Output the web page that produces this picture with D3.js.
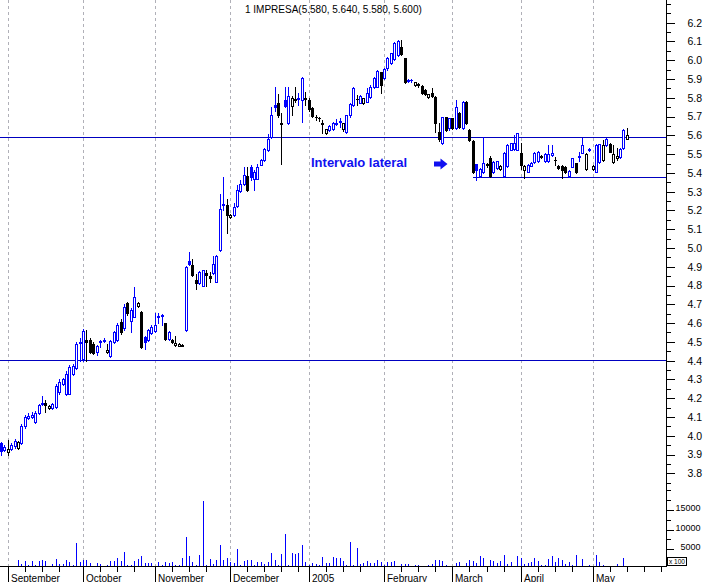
<!DOCTYPE html>
<html><head><meta charset="utf-8">
<script src="https://cdn.jsdelivr.net/npm/d3@7/dist/d3.min.js"></script>
<style>
html,body{margin:0;padding:0;background:#fff;}
svg{display:block;font-family:"Liberation Sans",Arial,sans-serif;}
</style></head><body>
<svg id="chart" width="707" height="582"></svg>
<script>
// ---------------- data (bar index 0 = 1 Sep 2004) ----------------
const firstIndex = -2;
const open = [
 3.96,3.925,3.915,3.93,3.945,3.935,3.96,4.05,4.095,4.10,
 4.075,4.12,4.17,4.175,4.15,4.15,4.155,4.235,4.275,4.22,
 4.225,4.33,4.36,4.495,4.41,4.51,4.51,4.49,4.445,4.50,
 4.505,4.445,4.425,4.50,4.51,4.608,4.572,4.706,4.61,4.635,
 4.69,4.661,4.528,4.51,4.546,4.56,4.635,4.64,4.60,4.515,
 4.51,4.485,4.48,4.48,4.563,4.93,4.91,4.83,4.815,4.80,
 4.865,4.85,4.865,4.82,4.99,5.23,5.23,5.165,5.175,5.225,
 5.305,5.34,5.385,5.43,5.37,5.37,5.443,5.47,5.52,5.59,
 5.76,5.77,5.665,5.79,5.665,5.755,5.795,5.795,5.79,5.80,
 5.79,5.745,5.70,5.693,5.665,5.611,5.63,5.632,5.662,5.67,
 5.632,5.617,5.709,5.762,5.795,5.771,5.771,5.78,5.806,5.856,
 5.86,5.939,5.904,5.957,5.984,6.005,6.03,6.069,6.01,5.895,
 5.893,5.868,5.875,5.863,5.842,5.806,5.824,5.806,5.62,5.558,
 5.696,5.638,5.69,5.638,5.72,5.638,5.78,5.63,5.572,5.45,
 5.385,5.407,5.445,5.48,5.407,5.425,5.419,5.384,5.437,5.522,
 5.525,5.522,5.505,5.416,5.407,5.437,5.46,5.465,5.486,5.465,
 5.465,5.495,5.47,5.437,5.437,5.434,5.386,5.434,5.451,5.485,
 5.508,5.419,5.52,5.419,5.407,5.46,5.469,5.549,5.555,5.46,
 5.478,5.487,5.531,5.58];
const high = [
 3.965,3.95,3.98,3.96,3.985,3.97,4.06,4.11,4.12,4.125,
 4.13,4.17,4.21,4.19,4.165,4.175,4.275,4.30,4.305,4.345,
 4.375,4.38,4.50,4.52,4.57,4.565,4.52,4.50,4.485,4.51,
 4.52,4.49,4.51,4.56,4.60,4.62,4.70,4.71,4.68,4.794,
 4.71,4.665,4.53,4.57,4.59,4.655,4.655,4.65,4.60,4.56,
 4.515,4.53,4.495,4.49,4.905,4.98,4.94,4.86,4.875,4.885,
 4.885,4.87,4.955,4.965,5.29,5.38,5.26,5.18,5.24,5.335,
 5.36,5.43,5.43,5.44,5.415,5.45,5.475,5.53,5.607,5.75,
 5.86,5.82,5.72,5.857,5.857,5.81,5.86,5.825,5.91,5.83,
 5.80,5.75,5.71,5.70,5.68,5.635,5.655,5.67,5.685,5.69,
 5.668,5.71,5.77,5.86,5.815,5.815,5.80,5.851,5.87,5.91,
 5.948,5.94,5.957,6.015,6.04,6.095,6.108,6.108,6.012,5.90,
 5.90,5.886,5.88,5.866,5.845,5.82,5.851,5.81,5.664,5.70,
 5.70,5.695,5.695,5.79,5.725,5.785,5.785,5.635,5.575,5.45,
 5.425,5.59,5.455,5.49,5.465,5.465,5.44,5.51,5.555,5.56,
 5.60,5.615,5.558,5.44,5.445,5.46,5.512,5.515,5.495,5.505,
 5.549,5.549,5.487,5.44,5.44,5.436,5.415,5.48,5.455,5.513,
 5.584,5.505,5.53,5.44,5.555,5.555,5.575,5.585,5.56,5.55,
 5.53,5.53,5.633,5.64];
const low = [
 3.895,3.92,3.90,3.925,3.935,3.93,3.955,4.04,4.09,4.095,
 4.07,4.115,4.165,4.125,4.145,4.145,4.15,4.225,4.27,4.215,
 4.22,4.325,4.355,4.40,4.40,4.40,4.44,4.435,4.43,4.475,
 4.50,4.44,4.42,4.495,4.505,4.54,4.565,4.645,4.555,4.63,
 4.685,4.466,4.46,4.505,4.54,4.555,4.60,4.59,4.51,4.51,
 4.495,4.48,4.478,4.478,4.56,4.91,4.85,4.78,4.81,4.798,
 4.80,4.82,4.86,4.82,4.985,5.20,5.08,5.16,5.17,5.22,
 5.30,5.335,5.305,5.36,5.31,5.365,5.44,5.465,5.515,5.585,
 5.73,5.70,5.447,5.75,5.66,5.71,5.78,5.76,5.67,5.76,
 5.73,5.70,5.68,5.675,5.61,5.605,5.625,5.63,5.655,5.645,
 5.625,5.615,5.70,5.755,5.762,5.77,5.765,5.775,5.80,5.85,
 5.855,5.824,5.90,5.95,5.98,6.00,6.025,6.03,5.88,5.885,
 5.885,5.865,5.86,5.82,5.815,5.80,5.805,5.62,5.57,5.555,
 5.625,5.63,5.635,5.635,5.64,5.635,5.66,5.57,5.40,5.36,
 5.38,5.40,5.43,5.38,5.40,5.42,5.415,5.38,5.43,5.52,
 5.52,5.52,5.42,5.371,5.405,5.435,5.455,5.46,5.48,5.46,
 5.46,5.49,5.442,5.42,5.371,5.40,5.38,5.43,5.40,5.465,
 5.505,5.415,5.515,5.415,5.405,5.455,5.465,5.545,5.51,5.455,
 5.47,5.48,5.525,5.58];
const close = [
 3.92,3.94,3.93,3.95,3.97,3.965,4.05,4.10,4.105,4.11,
 4.12,4.165,4.175,4.165,4.16,4.17,4.265,4.285,4.30,4.33,
 4.365,4.37,4.49,4.50,4.56,4.50,4.445,4.44,4.48,4.502,
 4.51,4.455,4.507,4.555,4.59,4.555,4.688,4.652,4.67,4.741,
 4.705,4.475,4.497,4.564,4.581,4.59,4.64,4.645,4.514,4.555,
 4.50,4.495,4.49,4.485,4.90,4.915,4.857,4.815,4.87,4.882,
 4.858,4.84,4.915,4.96,5.206,5.235,5.176,5.175,5.22,5.31,
 5.34,5.39,5.31,5.38,5.405,5.43,5.47,5.525,5.578,5.71,
 5.75,5.71,5.66,5.755,5.807,5.80,5.79,5.80,5.905,5.795,
 5.74,5.705,5.696,5.69,5.66,5.632,5.65,5.664,5.668,5.678,
 5.664,5.709,5.767,5.851,5.792,5.81,5.797,5.824,5.86,5.904,
 5.945,5.866,5.952,6.01,6.037,6.09,6.10,6.033,5.886,5.89,
 5.895,5.882,5.87,5.824,5.82,5.818,5.81,5.664,5.579,5.696,
 5.629,5.691,5.64,5.753,5.645,5.78,5.668,5.575,5.407,5.416,
 5.42,5.455,5.442,5.384,5.46,5.462,5.437,5.508,5.549,5.558,
 5.56,5.611,5.44,5.435,5.44,5.455,5.505,5.51,5.488,5.501,
 5.503,5.507,5.469,5.425,5.416,5.407,5.412,5.478,5.407,5.489,
 5.549,5.501,5.526,5.437,5.549,5.552,5.549,5.579,5.513,5.50,
 5.49,5.525,5.629,5.60];
const volume = [ // x 100
 0,0,0,0,0,2284,1296,2119,1049,2119,
 1049,2119,2284,2119,0,1296,2531,1296,1296,2284,
 1872,1049,6556,1872,2284,2284,1626,0,1461,1296,
 0,1049,2037,2037,2778,2037,4259,1049,1049,2119,
 2531,3272,1461,1461,1461,0,1790,1049,1790,1461,
 1790,1049,1049,2778,8201,3272,1790,1049,3519,17346,
 1049,2531,1296,2284,5979,2284,2778,1872,1461,4992,
 1049,2119,2284,2284,1049,1790,1790,1296,1790,4005,
 2284,1049,3759,8942,1049,4005,3759,4005,5979,1790,
 1049,1461,1296,1049,3025,1543,1543,3025,2778,2778,
 2037,1049,6967,1049,5239,1296,1461,2119,1461,1626,
 2284,1872,1049,1872,1872,2119,0,1296,1296,1296,
 0,1049,1049,0,0,1049,1296,2284,2284,2119,
 1049,0,0,1626,1872,0,1626,2284,2119,1626,
 3272,2778,0,2284,2119,1461,2119,3519,1296,1872,
 0,3272,2778,1296,1461,1872,2860,2119,1049,1049,
 2531,3272,1872,2778,2284,1296,1872,1049,3519,0,
 2531,0,1049,0,3519,1872,1049,0,0,0,
 1296,0,2778,0];
// first trading bar of each month (Aug 2004 ... Jun 2005)
const monthStart  = [-22, 0, 22, 43, 65, 88, 110, 130, 150, 171, 196];
const monthLabels = ["", "September", "October", "November", "December", "2005", "February", "March", "April", "May", ""];
const priceMajorTicks = d3.range(38, 63).map(d => d / 10);           // 3.8 ... 6.2 labelled
const priceMinorTicks = d3.range(75, 127).map(d => d / 20);          // every 0.05
const volumeTicks = [5000, 10000, 15000];
const volumeMinorTicks = d3.range(1, 9).map(d => d * 2500);
const levelValues = [5.59, 5.378, 4.405];
const levelFrom   = [-3, 136, -3];
const titleText = "1 IMPRESA(5.580, 5.640, 5.580, 5.600)";
const noteText = "Intervalo lateral";
const unitText = "x 100";

// ---------------- drawing ----------------
const svg = d3.select("#chart");
const BLUE = "#0000ff", BLACK = "#000000", LEVEL = "#0000c0", GRID = "#b0b0b8";
const axisX = 666;       // right axis pixel column
const baseY = 566;       // bottom axis line

const x  = d3.scaleLinear().domain([0, 190]).range([8.3, 8.3 + 3.42 * 190]);
const y  = d3.scaleLinear().domain([3.8, 6.2]).range([473.3, 22.7]);
const yV = d3.scaleLinear().domain([0, 15000]).range([569, 509.9]);
const col = i => Math.floor(x(i));

const bars = open.map((o, k) => ({
  i: k + firstIndex, o, h: high[k], l: low[k], c: close[k], v: volume[k],
  up: k === 0 ? true : close[k] >= close[k - 1]
}));

svg.append("rect").attr("width", 707).attr("height", 582).attr("fill", "#fff");

// month grid lines
const grid = svg.append("g").attr("shape-rendering", "crispEdges");
grid.selectAll("line").data(monthStart.slice(1, -1)).join("line")
  .attr("x1", d => col(d) + 0.5).attr("x2", d => col(d) + 0.5)
  .attr("y1", 0).attr("y2", baseY)
  .attr("stroke", GRID).attr("stroke-width", 1).attr("stroke-dasharray", "3,3");

// horizontal levels
const lv = svg.append("g").attr("shape-rendering", "crispEdges");
lv.selectAll("line").data(levelValues).join("line")
  .attr("x1", (d, k) => Math.max(0, x(levelFrom[k])))
  .attr("x2", axisX)
  .attr("y1", d => Math.round(y(d)) + 0.5).attr("y2", d => Math.round(y(d)) + 0.5)
  .attr("stroke", LEVEL).attr("stroke-width", 1);

// volume bars
const vg = svg.append("g").attr("shape-rendering", "crispEdges");
vg.selectAll("rect").data(bars.filter(d => Math.round(yV(d.v)) < baseY)).join("rect")
  .attr("x", d => col(d.i)).attr("width", 1)
  .attr("y", d => Math.round(yV(d.v))).attr("height", d => baseY - Math.round(yV(d.v)))
  .attr("fill", BLUE);

// candles
const cg = svg.append("g").attr("shape-rendering", "crispEdges");
const cand = cg.selectAll("g").data(bars).join("g");
cand.append("rect") // wick
  .attr("x", d => col(d.i)).attr("width", 1)
  .attr("y", d => Math.round(y(d.h)))
  .attr("height", d => Math.max(1, Math.round(y(d.l)) - Math.round(y(d.h)) + 1))
  .attr("fill", d => d.up ? BLUE : BLACK);
cand.append("rect") // body
  .attr("x", d => col(d.i) - 1).attr("width", 3)
  .attr("y", d => Math.round(y(Math.max(d.o, d.c))))
  .attr("height", d => Math.max(1, Math.round(y(Math.min(d.o, d.c))) - Math.round(y(Math.max(d.o, d.c))) + 1))
  .attr("fill", d => d.up ? BLUE : BLACK);
cand.filter(d => d.c > d.o && Math.round(y(d.o)) - Math.round(y(d.c)) >= 2)
  .append("rect") // hollow interior
  .attr("x", d => col(d.i)).attr("width", 1)
  .attr("y", d => Math.round(y(d.c)) + 1)
  .attr("height", d => Math.round(y(d.o)) - Math.round(y(d.c)) - 1)
  .attr("fill", "#fff");

// bottom axis line + ticks
const bx = svg.append("g").attr("shape-rendering", "crispEdges");
bx.append("line").attr("x1", 0).attr("x2", axisX + 1)
  .attr("y1", baseY + 0.5).attr("y2", baseY + 0.5).attr("stroke", BLACK);
const tickIdx = [];
for (let m = 0; m < monthStart.length - 1; m++) {
  for (let k = monthStart[m]; k < monthStart[m + 1] - 2; k += 5) tickIdx.push({k, major: k === monthStart[m]});
}
bx.selectAll("rect").data(tickIdx.filter(t => x(t.k) >= 0 && x(t.k) < axisX)).join("rect")
  .attr("x", t => col(t.k)).attr("width", 1)
  .attr("y", baseY + 1).attr("height", t => t.major ? 16 : 5).attr("fill", BLACK);
bx.selectAll("text").data(monthLabels.map((l, m) => ({l, k: monthStart[m]})).filter(d => d.l)).join("text")
  .attr("x", d => col(d.k) + 3).attr("y", 581.5)
  .attr("font-size", 10).attr("fill", BLACK).text(d => d.l);

// right axis
const ax = svg.append("g").attr("shape-rendering", "crispEdges");
ax.append("line").attr("x1", axisX + 0.5).attr("x2", axisX + 0.5)
  .attr("y1", 0).attr("y2", baseY + 1).attr("stroke", BLACK);
const minorG = svg.append("g").attr("transform", `translate(${axisX},0)`).attr("shape-rendering", "crispEdges")
  .call(d3.axisRight(y).tickValues(priceMinorTicks).tickSize(5).tickSizeOuter(0).tickFormat(""));
const majorG = svg.append("g").attr("transform", `translate(${axisX},0)`).attr("shape-rendering", "crispEdges")
  .call(d3.axisRight(y).tickValues(priceMajorTicks).tickSize(9).tickSizeOuter(0).tickFormat(d3.format(".1f")));
const volMinorG = svg.append("g").attr("transform", `translate(${axisX},0)`).attr("shape-rendering", "crispEdges")
  .call(d3.axisRight(yV).tickValues(volumeMinorTicks).tickSize(5).tickSizeOuter(0).tickFormat(""));
const volG = svg.append("g").attr("transform", `translate(${axisX},0)`).attr("shape-rendering", "crispEdges")
  .call(d3.axisRight(yV).tickValues(volumeTicks).tickSize(8).tickSizeOuter(0).tickFormat(d3.format("d")));
[minorG, majorG, volMinorG, volG].forEach(g => {
  g.select(".domain").remove();
  g.selectAll(".tick line").attr("stroke", BLACK);
});
majorG.selectAll(".tick text")
  .attr("x", 36).attr("text-anchor", "end").attr("font-size", 10.5)
  .attr("font-family", "Liberation Sans, Arial, sans-serif").attr("fill", BLACK);
volG.selectAll(".tick text")
  .attr("x", 34.5).attr("dy", "0.05em").attr("text-anchor", "end").attr("font-size", 9)
  .attr("font-family", "Liberation Sans, Arial, sans-serif").attr("fill", BLACK);

// unit box
svg.append("rect").attr("x", 667.5).attr("y", 557.5).attr("width", 19).attr("height", 8)
  .attr("fill", "#fff").attr("stroke", BLACK).attr("shape-rendering", "crispEdges");
svg.append("text").attr("x", 669).attr("y", 564.3).attr("font-size", 6.5).attr("fill", BLACK).text(unitText);

// title
svg.append("text").attr("x", 245).attr("y", 12.5).attr("font-size", 10).attr("fill", BLACK).text(titleText);

// annotation
svg.append("text").attr("x", 311).attr("y", 167).attr("font-size", 13).attr("font-weight", "bold")
  .attr("fill", "#1010f0").text(noteText);
svg.append("path")
  .attr("d", "M434,161.5 L440.5,161.5 L440.5,158.5 L447.5,164 L440.5,169.5 L440.5,166.5 L434,166.5 Z")
  .attr("fill", "#1010f0");
</script>
</body></html>
